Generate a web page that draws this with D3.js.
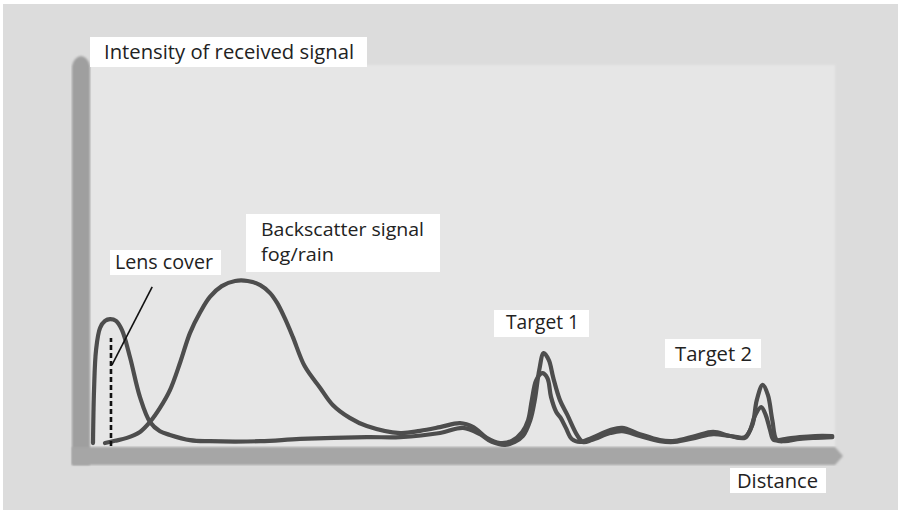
<!DOCTYPE html>
<html><head><meta charset="utf-8">
<script src="https://cdn.jsdelivr.net/npm/d3@7/dist/d3.min.js"></script>
<style>html,body{margin:0;padding:0;background:#fff;}svg{display:block;}</style>
</head><body>
<script>
// Distance (0-100 relative) and intensity (0-100 relative)
const lensDistance = [0,0.14,0.41,0.95,1.62,2.3,3.11,3.92,5.0,6.35,7.7,9.05,10.4,13.1,15.8,22.6,28.0,37.0,41.5,46.9,50.0,52.3,53.9,55.7,57.0,58.1,59.1,59.7,60.3,60.9,61.6,62.2,63.1,64.1,65.4,66.2,67.4,69.9,71.5,73.9,76.6,78.6,81.4,83.8,86.1,88.1,89.1,89.7,90.5,91.2,91.8,92.4,93.5,95.5,97.6,99.9];
const lensIntensity = [0.8,15.1,25.9,31.9,33.8,34.3,33.8,31.3,24.0,13.2,6.5,4.0,3.0,1.6,1.3,1.3,1.9,2.4,2.4,3.5,4.9,3.2,1.1,0.3,1.1,2.7,7.0,12.4,20.5,25.1,23.2,18.4,12.4,8.4,3.0,1.1,1.6,3.5,4.0,2.7,1.3,1.1,2.2,3.2,2.7,2.4,5.7,12.4,16.5,13.8,7.0,1.6,1.3,1.9,2.2,2.4];
const backDistance = [1.62,2.97,4.59,6.35,7.7,9.05,10.4,11.8,13.1,14.5,15.8,17.4,19.2,20.9,22.6,23.9,24.9,25.9,27.0,28.6,30.7,32.4,34.7,37.0,41.5,44.2,46.9,49.6,51.4,53.2,55.0,56.6,58.0,58.8,59.3,59.9,60.7,61.4,61.9,62.6,63.2,63.9,64.7,65.8,67.4,69.9,71.5,73.9,76.6,78.6,81.4,83.8,86.1,88.1,88.8,89.5,90.3,90.9,91.5,92.0,93.5,95.5,97.6,99.9];
const backIntensity = [0.8,1.4,2.2,3.8,6.5,10.3,15.1,22.7,30.5,36.2,40.3,43.2,44.6,44.6,43.5,41.4,38.6,34.6,29.5,21.6,15.7,11.1,7.6,5.4,3.5,4.1,5.1,6.2,5.1,2.2,0.8,1.4,3.8,7.0,12.4,17.8,19.7,18.4,13.2,9.2,7.6,4.9,1.9,1.1,2.2,4.3,4.9,3.2,1.6,1.4,2.7,3.8,2.7,2.2,4.3,8.4,10.5,8.4,4.3,1.6,1.9,2.4,2.7,2.7];
// Lens cover marker (dashed) and leader line, in data units
const lensMarker = [[2.43,0],[2.43,29.2]];
const leader = [[8.0,43.0],[2.57,21.9]];
// Text labels
const labels = [
  {lines:["Intensity of received signal"], box:[90,37,277,30], tx:104, ty:[59], tw:[250], fs:19.5},
  {lines:["Backscatter signal","fog/rain"], box:[246,214,194,58], tx:261, ty:[236,261], tw:[163,73], fs:18},
  {lines:["Lens cover"], box:[110,250,111,25], tx:115, ty:[269], tw:[98], fs:19.5},
  {lines:["Target 1"], box:[494,310,95,27], tx:506, ty:[329], tw:[73], fs:19.5},
  {lines:["Target 2"], box:[665,339,96,29], tx:675, ty:[361], tw:[77], fs:19.5},
  {lines:["Distance"], box:[730,468,96,25], tx:737, ty:[488], tw:[81], fs:19.5}
];

const W=905,H=520;
const svg=d3.select("body").append("svg").attr("width",W).attr("height",H);
svg.append("rect").attr("x",3).attr("y",4).attr("width",895).attr("height",506).attr("fill","#dcdcdc");
const defs=svg.append("defs");
const bl=defs.append("filter").attr("id","soft").attr("x","-5%").attr("y","-5%").attr("width","110%").attr("height","110%");
bl.append("feGaussianBlur").attr("stdDeviation",1.2);
const bl2=defs.append("filter").attr("id","line").attr("x","-5%").attr("y","-5%").attr("width","110%").attr("height","110%");
bl2.append("feGaussianBlur").attr("stdDeviation",0.45);
// plot panel
svg.append("rect").attr("x",90).attr("y",65).attr("width",745).attr("height",382).attr("fill","#e6e6e6").attr("filter","url(#soft)");

const x=d3.scaleLinear().domain([0,100]).range([93,833]);
const y=d3.scaleLinear().domain([0,100]).range([446,76]);

// axis bars
const yBar=d3.path();
yBar.moveTo(72,465); yBar.lineTo(72,66); yBar.quadraticCurveTo(74,57,81,56); yBar.quadraticCurveTo(88,57,90,66); yBar.lineTo(90,465); yBar.closePath();
svg.append("path").attr("d",yBar.toString()).attr("fill","#9f9f9f").attr("filter","url(#soft)");
const xBar=d3.path();
xBar.moveTo(72,447); xBar.lineTo(835,447); xBar.lineTo(843,456); xBar.lineTo(835,465); xBar.lineTo(72,465); xBar.closePath();
svg.append("path").attr("d",xBar.toString()).attr("fill","#a6a6a6").attr("filter","url(#soft)");

const line=d3.line().x(d=>x(d[0])).y(d=>y(d[1])).curve(d3.curveCatmullRom.alpha(0.5));
const lensData=d3.zip(lensDistance,lensIntensity);
const backData=d3.zip(backDistance,backIntensity);
[backData,lensData].forEach(dt=>{
  svg.append("path").datum(dt).attr("d",line).attr("fill","none").attr("stroke","#4d4d4d").attr("stroke-width",4.2).attr("stroke-linejoin","round").attr("stroke-linecap","round").attr("filter","url(#line)");
});
const straight=d3.line().x(d=>x(d[0])).y(d=>y(d[1]));
svg.append("path").datum(lensMarker).attr("d",straight).attr("stroke","#111").attr("stroke-width",2.6).attr("stroke-dasharray","5,3").attr("fill","none");
svg.append("path").datum(leader).attr("d",straight).attr("stroke","#111").attr("stroke-width",1.6).attr("fill","none");

labels.forEach(l=>{
  svg.append("rect").attr("x",l.box[0]).attr("y",l.box[1]).attr("width",l.box[2]).attr("height",l.box[3]).attr("fill","#fff");
  l.lines.forEach((s,i)=>{
    svg.append("text").attr("font-family","'Open Sans', sans-serif").attr("font-size",l.fs).attr("fill","#222")
      .attr("x",l.tx).attr("y",l.ty[i]).text(s)
      .attr("textLength",l.tw[i]).attr("lengthAdjust","spacingAndGlyphs");
  });
});
</script>
</body></html>
